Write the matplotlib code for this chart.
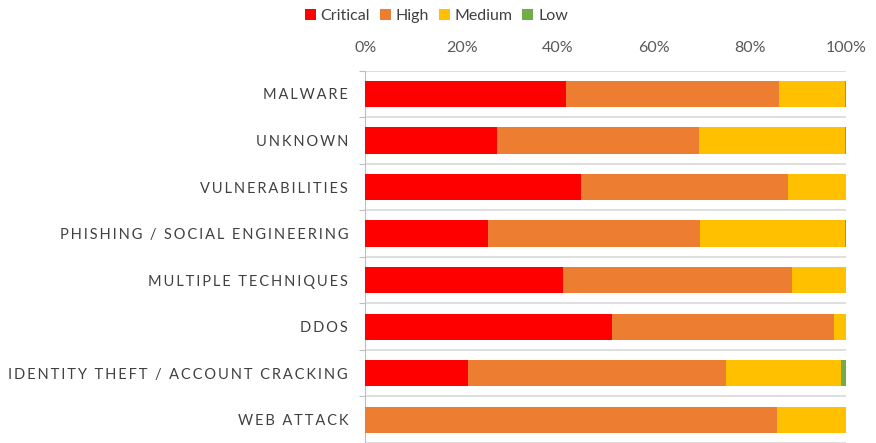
import numpy as np
import matplotlib
matplotlib.use("Agg")
import matplotlib.pyplot as plt
from matplotlib.ticker import PercentFormatter

categories = ['MALWARE', 'UNKNOWN', 'VULNERABILITIES', 'PHISHING / SOCIAL ENGINEERING',
              'MULTIPLE TECHNIQUES', 'DDOS', 'IDENTITY THEFT / ACCOUNT CRACKING', 'WEB ATTACK']
critical = [41.7, 27.4, 44.8, 25.6, 41.2, 51.4, 21.3, 0.0]
high = [44.3, 42.0, 43.2, 44.0, 47.6, 46.0, 53.8, 85.7]
medium = [13.85, 30.45, 12.0, 30.25, 11.2, 2.6, 23.8, 14.3]
low = [0.15, 0.15, 0.0, 0.15, 0.0, 0.0, 1.1, 0.0]

series = ['Critical', 'High', 'Medium', 'Low']
colors = ['#FF0000', '#ED7D31', '#FFC000', '#70AD47']

plt.rcParams['font.family'] = ['Lato', 'DejaVu Sans']


def tracked(label):
    # the category labels are letter-spaced
    return '\u2009'.join(label)


fig = plt.figure(figsize=(8.76, 4.43), dpi=100)
ax = fig.add_axes([0.4172, 0.0, 0.5486, 0.8404])

y = np.arange(len(categories))
left = np.zeros(len(categories))
for name, vals, col in zip(series, [critical, high, medium, low], colors):
    vals = np.array(vals)
    ax.barh(y, vals, left=left, height=0.565, color=col, label=name, zorder=3)
    left += vals

ax.set_xlim(0, 100)
ax.set_ylim(len(categories) - 0.5, -0.5)
ax.xaxis.tick_top()
ax.set_xticks(np.arange(0, 101, 20))
ax.xaxis.set_major_formatter(PercentFormatter(decimals=0))
ax.tick_params(axis='x', length=0, pad=11, labelsize=11.5, labelcolor='#595959')

ax.set_yticks(y)
ax.set_yticklabels([tracked(c) for c in categories], fontsize=10.5, color='#404040')
ax.tick_params(axis='y', which='major', length=0, pad=12.5)
ax.set_yticks(np.arange(-0.5, len(categories)), minor=True)
ax.tick_params(axis='y', which='minor', length=4, color='#BFBFBF', width=0.8)
ax.grid(True, axis='y', which='minor', color='#D9D9D9', linewidth=1.2, zorder=0)

for s in ['top', 'right', 'bottom']:
    ax.spines[s].set_visible(False)
ax.spines['left'].set_color('#BFBFBF')
ax.spines['left'].set_linewidth(0.8)

fig.legend(loc='center', bbox_to_anchor=(0.498, 0.963), ncol=4, frameon=False,
           fontsize=11.5, handlelength=0.7, handleheight=0.7, handletextpad=0.3,
           columnspacing=0.6, labelcolor='#404040')

fig.savefig('out.png', dpi=100)
